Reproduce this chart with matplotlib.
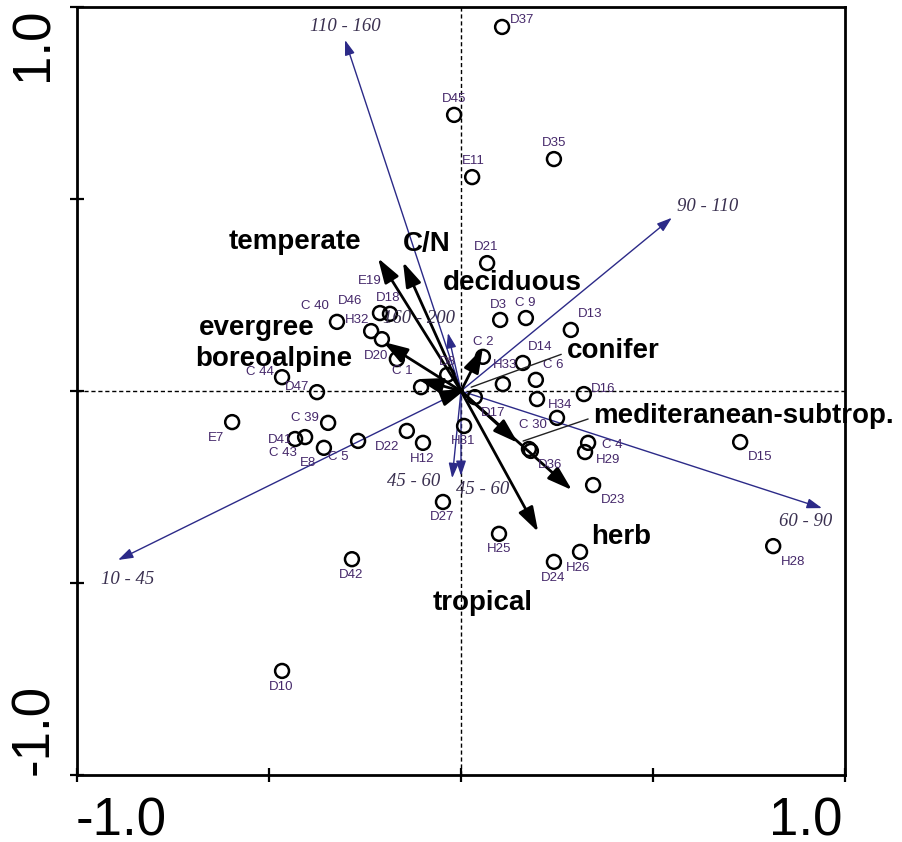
import matplotlib
matplotlib.use('Agg')
import matplotlib.pyplot as plt
from matplotlib.patches import FancyArrowPatch

# ---------------- data ----------------
site_names = ['D37', 'D45', 'D35', 'E11', 'D21', 'D3', 'C 9', 'D13', 'C 2', 'D14',
              'H33', 'C 6', '', 'D16', 'H34', 'D17', 'H31', 'C 30', 'D36', 'C 4',
              'H29', 'D23', 'D15', 'H28', 'H26', 'D24', 'H25', 'D27', 'H12', 'D22',
              'C 5', 'E8', 'C 43', 'D41', 'C 39', 'E7', 'D42', 'D10', 'C 44', 'D47',
              'C 40', 'D46', 'D18', 'H32', 'E19', 'D20', 'C 1', 'D8']
site_x = [0.107, -0.018, 0.242, 0.029, 0.068, 0.102, 0.169, 0.286, 0.057, 0.161,
          0.109, 0.195, 0.198, 0.320, 0.250, 0.036, 0.008, 0.177, 0.182, 0.331,
          0.323, 0.344, 0.727, 0.813, 0.310, 0.242, 0.099, -0.047, -0.099, -0.141,
          -0.268, -0.357, -0.432, -0.406, -0.346, -0.596, -0.284, -0.466, -0.466, -0.375,
          -0.323, -0.211, -0.185, -0.234, -0.206, -0.167, -0.104, -0.036]
site_y = [0.948, 0.719, 0.604, 0.557, 0.333, 0.185, 0.190, 0.159, 0.089, 0.073,
          0.018, 0.029, -0.021, -0.008, -0.070, -0.016, -0.091, -0.151, -0.156, -0.135,
          -0.159, -0.245, -0.133, -0.404, -0.419, -0.445, -0.372, -0.289, -0.135, -0.104,
          -0.130, -0.148, -0.125, -0.120, -0.083, -0.081, -0.438, -0.729, 0.036, -0.003,
          0.180, 0.203, 0.201, 0.156, 0.135, 0.083, 0.010, 0.042]

env_names = ['temperate', 'C/N', 'deciduous', 'evergree', 'boreoalpine', 'conifer',
             'mediteranean-subtrop.', 'herb', 'tropical']
env_x = [-0.216, -0.151, 0.057, -0.203, -0.112, 0.013, 0.148, 0.289, 0.201]
env_y = [0.346, 0.336, 0.112, 0.128, 0.031, 0.005, -0.135, -0.258, -0.367]

cls_names = ['110 - 160', '90 - 110', '60 - 90', '10 - 45', '45 - 60', '45 - 60', '160 - 200']
cls_x = [-0.302, 0.549, 0.940, -0.893, -0.023, 0.000, -0.034]
cls_y = [0.914, 0.451, -0.305, -0.440, -0.227, -0.221, 0.151]

axis_tick_values = [-1.0, -0.5, 0.0, 0.5, 1.0]

# ---------------- label placement (pixel offsets, style only) ----------------
site_label_off = {
    'D37': (20, 7), 'D45': (0, 16), 'D35': (0, 16), 'E11': (1, 16), 'D21': (-1, 16),
    'D3': (-2, 15), 'C 9': (-1, 15), 'D13': (19, 16), 'C 2': (0, 15), 'D14': (17, 16),
    'H33': (2, 19), 'C 6': (17, 15), 'D16': (19, 5), 'H34': (3, 13), 'D17': (18, -16),
    'H31': (-1, -15), 'C 30': (4, 24), 'D36': (19, -14), 'C 4': (24, -2), 'H29': (23, -8),
    'D23': (20, -15), 'D15': (20, -15), 'H28': (20, -16), 'H26': (-2, -16), 'D24': (-1, -16),
    'H25': (0, -15), 'D27': (-1, -15), 'H12': (-1, -16), 'D22': (-20, -16), 'C 5': (-20, -16),
    'E8': (-16, -15), 'C 43': (-12, -14), 'D41': (-25, -3), 'C 39': (-23, 5), 'E7': (-16, -16),
    'D42': (-1, -16), 'D10': (-1, -16), 'C 44': (-22, 5), 'D47': (-20, 5), 'C 40': (-22, 16),
    'D46': (-30, 12), 'D18': (-2, 16), 'H32': (-14, 11), 'E19': (-12, 58), 'D20': (-21, 3),
    'C 1': (-19, 16), 'D8': (0, 13), '': (0, 0),
}
env_label_off = {
    'temperate': (-83, 16), 'C/N': (24, 18), 'deciduous': (29, 65), 'evergree': (-126, 14),
    'boreoalpine': (-144, 20), 'conifer': (147, 38), 'mediteranean-subtrop.': (226, 27),
    'herb': (49, -47), 'tropical': (-56, -71),
}
env_leader = {'conifer', 'mediteranean-subtrop.'}
cls_label_off = [(0, 14), (36, 11), (-16, -13), (10, -20), (-39, -3), (22, -14), (-29, 15)]

SANS = ['Liberation Sans', 'DejaVu Sans']
SERIF = ['Liberation Serif', 'DejaVu Serif']
SITE_COL = '#45286a'
CLS_COL = '#2c2a88'
CLS_TXT = '#3a3050'

# ---------------- figure ----------------
W, H = 903, 842
fig = plt.figure(figsize=(W / 100, H / 100), dpi=100)
ax = fig.add_axes([77 / W, 67 / H, 768 / W, 768 / H])
ax.set_xlim(-1, 1)
ax.set_ylim(-1, 1)

for sp in ax.spines.values():
    sp.set_linewidth(2.0)
ax.set_xticks(axis_tick_values)
ax.set_yticks(axis_tick_values)
ax.set_xticklabels([])
ax.set_yticklabels([])
ax.tick_params(direction='inout', length=10, width=1.6, top=False, right=False)

# dashed zero lines
ax.axhline(0, color='black', lw=1.0, ls=(0, (3, 2)), zorder=1)
ax.axvline(0, color='black', lw=1.0, ls=(0, (3, 2)), zorder=1)

# blue class arrows
for name, x, y, off in zip(cls_names, cls_x, cls_y, cls_label_off):
    arr = FancyArrowPatch((0, 0), (x, y), arrowstyle='-|>,head_length=0.9,head_width=0.3',
                          mutation_scale=10, color=CLS_COL, lw=1.0, shrinkA=0, shrinkB=0,
                          zorder=2)
    ax.add_patch(arr)
    ax.annotate(name, (x, y), xytext=off, textcoords='offset pixels', ha='center',
                va='center', fontsize=13.5, style='italic', family=SERIF, color=CLS_TXT,
                annotation_clip=False, zorder=5)

# sites
ax.scatter(site_x, site_y, s=100, facecolors='none', edgecolors='black',
           linewidths=1.8, zorder=3)
for name, x, y in zip(site_names, site_x, site_y):
    if not name:
        continue
    ax.annotate(name, (x, y), xytext=site_label_off[name], textcoords='offset pixels',
                ha='center', va='center', fontsize=9.5, family=SANS, color=SITE_COL,
                zorder=5)

# black environmental arrows
for name, x, y in zip(env_names, env_x, env_y):
    arr = FancyArrowPatch((0, 0), (x, y), arrowstyle='-|>,head_length=1.5,head_width=0.48',
                          mutation_scale=10, color='black', lw=2.0, shrinkA=0, shrinkB=0,
                          zorder=4)
    ax.add_patch(arr)
    off = env_label_off[name]
    if name in env_leader:
        ax.annotate(name, (x, y), xytext=off, textcoords='offset pixels', ha='center',
                    va='center', fontsize=20, fontweight='bold', family=SANS, color='black',
                    annotation_clip=False, zorder=6,
                    arrowprops=dict(arrowstyle='-', lw=1.0, color='#222222',
                                    shrinkA=2, shrinkB=4, relpos=(0, 0.45)))
    else:
        ax.annotate(name, (x, y), xytext=off, textcoords='offset pixels', ha='center',
                    va='center', fontsize=20, fontweight='bold', family=SANS, color='black',
                    annotation_clip=False, zorder=6)

# axis end labels
fig.text(76 / W, 7 / H, '-1.0', ha='left', va='baseline', fontsize=38, family=SANS)
fig.text(842 / W, 7 / H, '1.0', ha='right', va='baseline', fontsize=38, family=SANS)
fig.text(48 / W, (H - 8) / H, '1.0', ha='right', va='baseline', rotation=90,
         rotation_mode='anchor', fontsize=38, family=SANS)
fig.text(48 / W, (H - 775) / H, '-1.0', ha='left', va='baseline', rotation=90,
         rotation_mode='anchor', fontsize=38, family=SANS)

fig.savefig('out.png', dpi=100)
